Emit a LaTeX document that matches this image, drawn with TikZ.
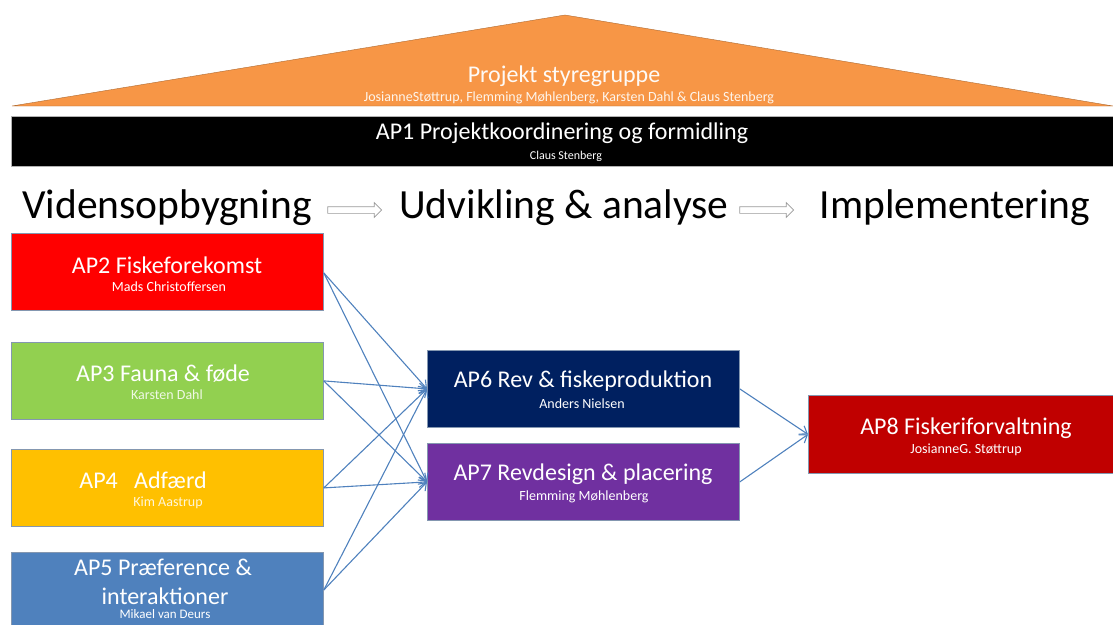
\documentclass[tikz,border=0pt]{standalone}
\usepackage{fontspec}
\setmainfont{Carlito}
\usetikzlibrary{arrows.meta,shapes.arrows}
\definecolor{orng}{HTML}{F79646}
\definecolor{apred}{HTML}{FF0000}
\definecolor{apgreen}{HTML}{92D050}
\definecolor{apyellow}{HTML}{FFC000}
\definecolor{apblue}{HTML}{4F81BD}
\definecolor{apnavy}{HTML}{002060}
\definecolor{appurple}{HTML}{7030A0}
\definecolor{apdkred}{HTML}{C00000}
\definecolor{bordr}{HTML}{8497B0}
\definecolor{conn}{HTML}{4F81BD}
\tikzset{
  apbox/.style={draw=bordr, line width=0.8pt, minimum width=312pt, minimum height=77pt, anchor=north west, inner sep=0pt},
  aptitle/.style={text=white, font=\fontsize{24}{26}\selectfont, inner sep=0pt},
  apsub/.style={text=white, font=\fontsize{14}{15}\selectfont, inner sep=0pt},
  heading/.style={font=\fontsize{41.5}{44}\selectfont, inner sep=0pt},
  hollow/.style={single arrow, draw=gray!80, fill=white, line width=0.7pt, minimum height=54pt, inner sep=3pt, single arrow head extend=4pt, single arrow tip angle=90},
  conarrow/.style={draw=conn, line width=1.1pt, -{Straight Barb[length=7pt,width=10pt]}}
}
\begin{document}
\begin{tikzpicture}[x=1pt,y=-1pt]
\useasboundingbox (0,0) rectangle (1113,624);
\clip (0,0) rectangle (1113,624);
% steering group roof
\coordinate (rl) at (12,106);
\coordinate (rt) at (565,15);
\coordinate (rr) at (1113,106);
\fill[orng, draw=orng!70!black, line width=0.4pt] (rl) -- (rt) -- (rr) -- cycle;
\node[aptitle, text=white!95!orng] (st) at (564,76) {Projekt styregruppe};
\node[apsub, text=white!90!orng] (ss) at (569,98) {JosianneStøttrup, Flemming Møhlenberg, Karsten Dahl \& Claus Stenberg};
% AP1 bar
\node[fill=black, draw=gray!60, line width=0.6pt, minimum width=1102pt, minimum height=50pt, anchor=north west, inner sep=0pt] (ap1) at (11,116) {};
\node[aptitle] (ap1t) at (562,133) {AP1 Projektkoordinering og formidling};
\node[apsub, font=\fontsize{12}{13}\selectfont] (ap1s) at (566,156) {Claus Stenberg};
% headings
\node[heading] (h1) at (167,208) {Vidensopbygning};
\node[heading] (h2) at (564,208) {Udvikling \& analyse};
\node[heading] (h3) at (955,208) {Implementering};
\node[hollow] (a1) at (353,210) {};
\node[hollow] (a2) at (765,210) {};
% left boxes
\node[apbox, fill=apred] (ap2) at (11,233) {};
\node[aptitle] at (167,265) {AP2 Fiskeforekomst};
\node[apsub] at (169,287) {Mads Christoffersen};
\node[apbox, fill=apgreen] (ap3) at (11,342) {};
\node[aptitle] at (163,374) {AP3 Fauna \& føde};
\node[apsub, text=white!85!apgreen] at (167,395) {Karsten Dahl};
\node[apbox, fill=apyellow] (ap4) at (11,449) {};
\node[aptitle] at (143,480) {AP4\ \ \ Adfærd};
\node[apsub, text=white!85!apyellow] at (168,503) {Kim Aastrup};
\node[apbox, fill=apblue] (ap5) at (11,552) {};
\node[aptitle] at (163,567) {AP5 Præference \&};
\node[aptitle] at (165,596) {interaktioner};
\node[apsub, font=\fontsize{13}{14}\selectfont] at (165,614) {Mikael van Deurs};
% middle boxes
\node[apbox, fill=apnavy] (ap6) at (427,350) {};
\node[aptitle] at (583,381) {AP6 Rev \& fiskeproduktion};
\node[apsub] at (582,404) {Anders Nielsen};
\node[apbox, fill=appurple] (ap7) at (427,443) {};
\node[aptitle] at (583,474) {AP7 Revdesign \& placering};
\node[apsub] at (584,497) {Flemming Møhlenberg};
% right box
\node[apbox, fill=apdkred, minimum width=305pt, minimum height=78pt] (ap8) at (808,395) {};
\node[aptitle] at (966,428) {AP8 Fiskeriforvaltning};
\node[apsub] at (966,450) {JosianneG. Støttrup};
% connectors
\coordinate (s2) at ([yshift=-1pt]ap2.east);
\coordinate (s5) at (ap5.east |- 0,590);
\foreach \s in {s2,ap3.east,ap4.east,s5}{
  \draw[conarrow] (\s) -- (ap6.west);
  \draw[conarrow] (\s) -- (ap7.west);
}
\draw[conarrow] (ap6.east) -- (ap8.west);
\draw[conarrow] (ap7.east) -- (ap8.west);
\end{tikzpicture}
\end{document}
